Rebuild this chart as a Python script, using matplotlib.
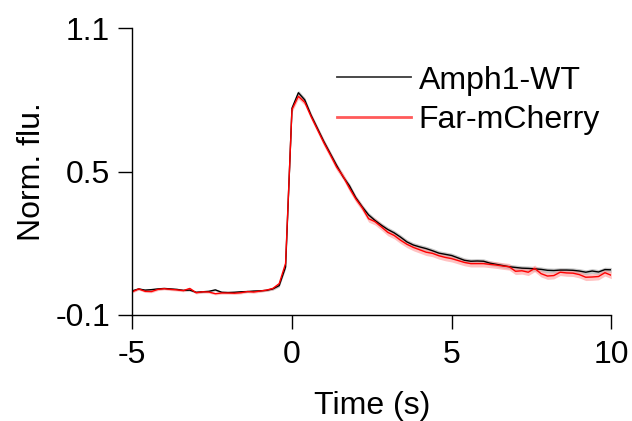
import numpy as np
import matplotlib
matplotlib.use("Agg")
import matplotlib.pyplot as plt
from matplotlib.lines import Line2D

plt.rcParams['font.family'] = ['Liberation Sans', 'DejaVu Sans']

time_s = [round(-5 + 0.2 * k, 1) for k in range(76)]

amph1_wt = [
    0.000, 0.008, 0.003, 0.005, 0.008, 0.010, 0.008, 0.006, 0.002, 0.003,
    -0.006, -0.004, -0.002, 0.004, -0.006, -0.007, -0.006, -0.004, -0.003, -0.001,
    0.000, 0.002, 0.008, 0.022, 0.100, 0.765, 0.830, 0.800, 0.735, 0.680,
    0.625, 0.575, 0.525, 0.478, 0.440, 0.390, 0.352, 0.318, 0.295, 0.275,
    0.257, 0.243, 0.225, 0.205, 0.192, 0.184, 0.177, 0.168, 0.158, 0.153,
    0.148, 0.138, 0.128, 0.124, 0.125, 0.124, 0.116, 0.111, 0.106, 0.101,
    0.098, 0.095, 0.094, 0.092, 0.090, 0.086, 0.085, 0.087, 0.087, 0.086,
    0.083, 0.078, 0.083, 0.079, 0.089, 0.088,
]
amph1_wt_sem = [
    0.004, 0.004, 0.004, 0.004, 0.004, 0.004, 0.004, 0.004, 0.004, 0.004,
    0.004, 0.004, 0.004, 0.004, 0.004, 0.004, 0.004, 0.004, 0.004, 0.004,
    0.004, 0.004, 0.005, 0.006, 0.008, 0.010, 0.010, 0.010, 0.010, 0.010,
    0.010, 0.010, 0.010, 0.010, 0.010, 0.010, 0.010, 0.010, 0.010, 0.010,
    0.010, 0.010, 0.010, 0.010, 0.010, 0.010, 0.010, 0.010, 0.010, 0.010,
    0.010, 0.010, 0.010, 0.010, 0.010, 0.010, 0.010, 0.010, 0.010, 0.010,
    0.010, 0.010, 0.010, 0.010, 0.010, 0.010, 0.010, 0.010, 0.010, 0.010,
    0.010, 0.010, 0.010, 0.010, 0.010, 0.010,
]

far_mcherry = [
    -0.004, 0.008, -0.002, -0.003, 0.006, 0.009, 0.006, 0.004, 0.001, 0.010,
    -0.008, -0.004, -0.005, -0.012, -0.009, -0.009, -0.010, -0.008, -0.003, -0.005,
    -0.001, 0.003, 0.010, 0.030, 0.115, 0.760, 0.815, 0.790, 0.730, 0.675,
    0.620, 0.570, 0.518, 0.480, 0.430, 0.385, 0.348, 0.302, 0.290, 0.268,
    0.245, 0.232, 0.212, 0.195, 0.182, 0.172, 0.162, 0.157, 0.147, 0.140,
    0.135, 0.127, 0.119, 0.114, 0.114, 0.114, 0.111, 0.108, 0.104, 0.101,
    0.082, 0.084, 0.078, 0.094, 0.072, 0.062, 0.064, 0.078, 0.075, 0.074,
    0.068, 0.057, 0.058, 0.060, 0.076, 0.065,
]
far_mcherry_sem = [
    0.005, 0.005, 0.005, 0.005, 0.005, 0.005, 0.005, 0.005, 0.005, 0.005,
    0.005, 0.005, 0.005, 0.005, 0.005, 0.005, 0.005, 0.005, 0.005, 0.005,
    0.005, 0.005, 0.006, 0.008, 0.010, 0.012, 0.012, 0.012, 0.013, 0.013,
    0.014, 0.014, 0.014, 0.014, 0.014, 0.014, 0.014, 0.014, 0.014, 0.014,
    0.014, 0.014, 0.014, 0.014, 0.014, 0.014, 0.014, 0.014, 0.014, 0.014,
    0.014, 0.014, 0.014, 0.014, 0.014, 0.014, 0.014, 0.014, 0.014, 0.014,
    0.014, 0.014, 0.014, 0.014, 0.014, 0.014, 0.014, 0.014, 0.014, 0.014,
    0.014, 0.014, 0.014, 0.014, 0.014, 0.014,
]

series_labels = ["Amph1-WT", "Far-mCherry"]
x_ticks = [-5, 0, 5, 10]
y_ticks = [-0.1, 0.5, 1.1]
y_ticklabels = ["-0.1", "0.5", "1.1"]

FS = 23

fig = plt.figure(figsize=(6.32, 4.21), dpi=100)
ax = fig.add_axes([132.3 / 632, 1 - 314.7 / 421, (611.3 - 132.3) / 632, (314.7 - 28.3) / 421])

t = np.array(time_s)
for y, s, lc, fc in [(amph1_wt, amph1_wt_sem, 'black', '#a0a0a0'),
                     (far_mcherry, far_mcherry_sem, 'red', '#ff9a9a')]:
    y = np.array(y); s = np.array(s)
    ax.fill_between(t, y - s, y + s, color=fc, alpha=0.6, linewidth=0)
    ax.plot(t, y, color=lc, linewidth=1.0)

ax.set_xlim(-5, 10)
ax.set_ylim(-0.1, 1.1)
ax.set_xticks(x_ticks)
ax.set_xticklabels([str(v) for v in x_ticks])
ax.set_yticks(y_ticks)
ax.set_yticklabels(y_ticklabels)
for sp in ['top', 'right']:
    ax.spines[sp].set_visible(False)
for sp in ['left', 'bottom']:
    ax.spines[sp].set_linewidth(1.0)
ax.tick_params(direction='out', length=10, width=1.0, labelsize=FS)
ax.tick_params(axis='x', pad=8)
ax.tick_params(axis='y', pad=6)
ax.set_xlabel("Time (s)", fontsize=FS, labelpad=15)
ax.set_ylabel("Norm. flu.", fontsize=FS, labelpad=6)

handles = [Line2D([], [], color='#3a3a3a', linewidth=1.3),
           Line2D([], [], color='#ff5a5a', linewidth=2.0)]
ax.legend(handles, series_labels, loc='upper left', bbox_to_anchor=(0.428, 0.87),
          frameon=False, fontsize=FS, handlelength=2.3, handletextpad=0.25,
          labelspacing=0.29, borderpad=0, borderaxespad=0)

fig.savefig("out.png", dpi=100)
